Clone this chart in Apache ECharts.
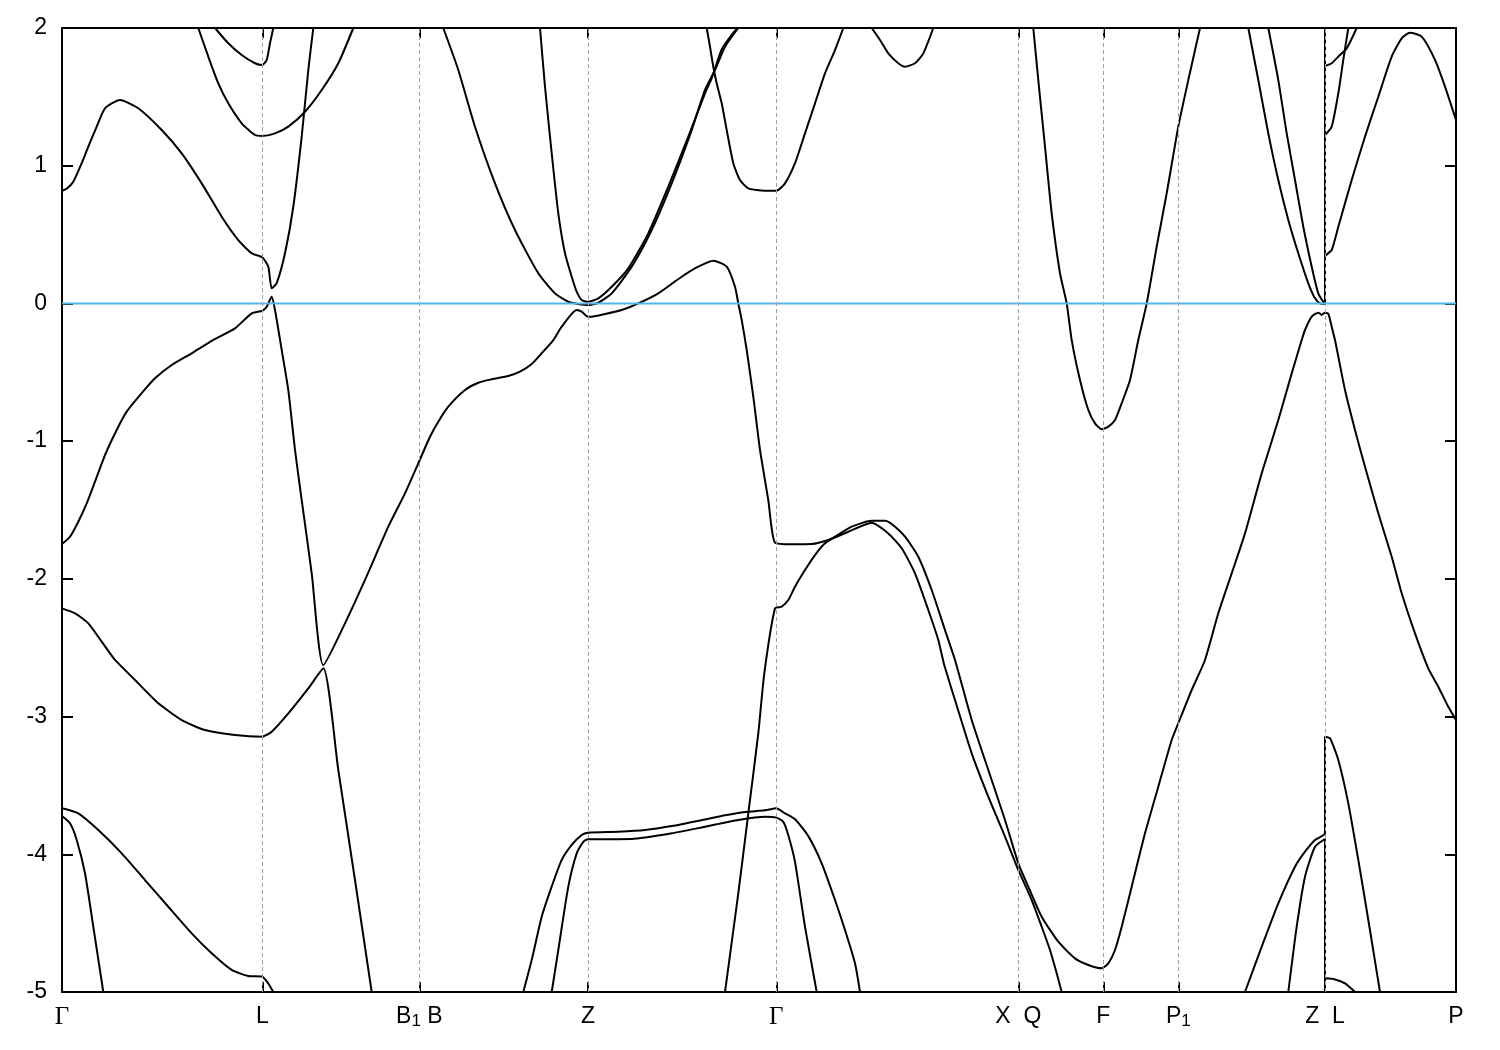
<!DOCTYPE html>
<html><head><meta charset="utf-8">
<script src="https://cdn.jsdelivr.net/npm/echarts@6/dist/echarts.min.js"></script>
<style>html,body{margin:0;padding:0;background:#fff}#c{width:1500px;height:1050px}</style>
</head><body><div id="c"></div>
<script>
// high-symmetry points (path coordinate k) and their labels
const symK = [0, 200.3, 357.3, 526, 714.3, 956.3, 1041.3, 1116.3, 1263, 1394];
const symLabels = ['{g|Γ}', '{n|L}', '{n|B}{s|1}{n| B}', '{n|Z}', '{g|Γ}', '{n|X  Q}', '{n|F}', '{n|P}{s|1}', '{n|Z  L}', '{n|P}'];
const fermiLevel = [[0, 0], [1394, 0]];

// bands: [k, E (eV)]
const bandA = [[0,-1.747],[8,-1.694],[16.3,-1.585],[24.7,-1.452],[33,-1.294],[43,-1.101],[54.7,-0.919],[64.7,-0.786],[79.7,-0.652],[93,-0.544],[109.7,-0.447],[129.7,-0.362],[151,-0.266],[173,-0.181],[189.7,-0.072],[200.3,-0.053],[204.7,-0.024],[209.7,0.049],[213,-0.048],[219.7,-0.338],[226.3,-0.629],[233,-1.064],[239.7,-1.428],[249.7,-1.960],[261.3,-2.626],[283,-2.323],[303,-2.008],[326.3,-1.621],[343,-1.379],[356.3,-1.161],[368,-0.968],[376.3,-0.859],[386.3,-0.750],[403,-0.629],[416.3,-0.576],[429.7,-0.551],[446.3,-0.527],[458,-0.496],[469.7,-0.440],[479.7,-0.362],[491.3,-0.266],[499.7,-0.169],[514.7,-0.048],[519.7,-0.060],[526,-0.096],[529.7,-0.096],[543,-0.077],[559.7,-0.048],[576.3,0.0],[596.3,0.073],[619.7,0.194],[636.3,0.267],[651.3,0.310],[664.7,0.267],[673,0.121],[676.3,0.0],[679.7,-0.120],[684.7,-0.338],[691.3,-0.677],[698,-1.064],[706.3,-1.428],[713,-1.737],[729.7,-1.749],[749.7,-1.747],[766.3,-1.718],[786.3,-1.658],[809.7,-1.592],[826.3,-1.670],[839.7,-1.778],[853,-1.960],[866.3,-2.226],[876.3,-2.444],[882,-2.618],[893,-2.880],[909.7,-3.267],[926.3,-3.582],[943,-3.872],[956.3,-4.114],[969.7,-4.332],[979.7,-4.526],[988,-4.695],[994.7,-4.864],[999.7,-5.0]];
const bandB = [[0,-2.214],[13,-2.250],[26.3,-2.323],[39.7,-2.456],[53,-2.589],[59.7,-2.638],[73,-2.735],[96.3,-2.904],[119.7,-3.025],[143,-3.098],[173,-3.134],[200.3,-3.146],[209.7,-3.110],[226.3,-2.977],[246.3,-2.795],[261.3,-2.650],[276.3,-3.388],[293,-4.187],[309.7,-5.0]];
const bandC = [[663,-5.0],[676.3,-4.284],[686.3,-3.703],[696.3,-3.122],[702.3,-2.686],[713,-2.214],[719.7,-2.202],[726.3,-2.154],[733,-2.057],[743,-1.936],[753,-1.827],[763,-1.742],[773,-1.694],[789.7,-1.621],[809.7,-1.578],[823,-1.578],[829.7,-1.602],[843,-1.694],[856.3,-1.839],[869.7,-2.081],[883,-2.372],[893,-2.589],[909.7,-3.025],[926.3,-3.388],[943,-3.751],[956.3,-4.066],[966.3,-4.235],[979.7,-4.453],[996.3,-4.635],[1013,-4.756],[1026.3,-4.804],[1039.7,-4.828],[1046.3,-4.792],[1053,-4.695],[1059.7,-4.526],[1069.7,-4.235],[1083,-3.848],[1096.3,-3.509],[1109.7,-3.170],[1116.3,-3.049],[1129.7,-2.807],[1143,-2.589],[1156.3,-2.250],[1169.7,-1.960],[1183,-1.670],[1199.7,-1.234],[1216.3,-0.847],[1229.7,-0.508],[1239.7,-0.266],[1243,-0.193],[1249.7,-0.096],[1256.3,-0.067],[1259.7,-0.084],[1263,-0.067],[1266.3,-0.075],[1269.7,-0.169],[1273,-0.266],[1283,-0.629],[1293,-0.919],[1303,-1.186],[1316.3,-1.524],[1329.7,-1.839],[1339.7,-2.105],[1353,-2.396],[1366.3,-2.650],[1376.3,-2.783],[1386.3,-2.929],[1394,-3.025]];
const bandD = [[0,0.818],[5,0.835],[11.3,0.884],[19.7,1.018],[26.3,1.139],[34.7,1.284],[43,1.417],[58,1.477],[76.3,1.417],[99.7,1.259],[119.7,1.090],[139.7,0.872],[159.7,0.630],[176.3,0.460],[189.7,0.364],[200.3,0.335],[206.3,0.267],[209.7,0.110],[214.7,0.147],[223,0.364],[231.3,0.702],[239.7,1.211],[246.3,1.695],[251.3,2.0]];
const bandE = [[0,-3.666],[16.3,-3.703],[36.3,-3.824],[59.7,-3.993],[83,-4.187],[106.3,-4.381],[129.7,-4.574],[149.7,-4.719],[169.7,-4.840],[186.3,-4.884],[200.3,-4.889],[206.3,-4.938],[211.3,-5.0]];
const bandF = [[0,-3.722],[8,-3.775],[14.7,-3.896],[23,-4.138],[31.3,-4.526],[41.3,-5.0]];
const bandT1 = [[136.3,2.0],[146.3,1.792],[156.3,1.598],[166.3,1.453],[179.7,1.308],[193,1.223],[200.3,1.216],[213,1.235],[226.3,1.284],[243,1.392],[259.7,1.550],[276.3,1.744],[291.3,2.0]];
const bandT2 = [[153,2.0],[166.3,1.889],[179.7,1.804],[193,1.744],[200.3,1.731],[204.7,1.768],[208,1.889],[211.3,2.0]];
const bandW = [[381.3,2.0],[396.3,1.695],[413,1.283],[433,0.872],[453,0.533],[476.3,0.219],[493,0.073],[506.3,0.012],[516.3,-0.004],[526,-0.012],[536.3,0.005],[549.7,0.073],[569.7,0.267],[589.7,0.533],[609.7,0.872],[629.7,1.259],[643,1.550],[653,1.695],[663,1.864],[676.3,2.0]];
const bandS = [[478,2.0],[483,1.574],[489.7,1.090],[496.3,0.654],[503,0.364],[509.7,0.194],[514.7,0.085],[519.7,0.025],[526,0.012],[536.3,0.037],[549.7,0.121],[566.3,0.255],[586.3,0.509],[606.3,0.848],[626.3,1.211],[643,1.526],[649.7,1.635],[660,1.85],[675,2.0]];
const bandG = [[644.7,2.0],[648,1.864],[651.3,1.719],[654.7,1.598],[659.7,1.453],[664.7,1.259],[671.3,1.018],[678,0.896],[686.3,0.836],[703,0.818],[714.3,0.818],[723,0.872],[733,1.018],[743,1.235],[753,1.453],[763,1.671],[773,1.840],[781.3,2.0]];
const bandH = [[809.7,2.0],[818,1.913],[826.3,1.816],[836.3,1.744],[843,1.719],[853,1.744],[861.3,1.816],[871.3,2.0]];
const bandV = [[971.3,2.0],[976.3,1.622],[983,1.138],[989.7,0.654],[998,0.219],[1004.7,0.0],[1009.7,-0.266],[1018,-0.556],[1026.3,-0.774],[1033,-0.871],[1039.7,-0.914],[1046.3,-0.895],[1053,-0.847],[1059.7,-0.725],[1068,-0.556],[1076.3,-0.266],[1084.7,0.0],[1094.7,0.412],[1104.7,0.800],[1116.3,1.284],[1126.3,1.622],[1138,2.0]];
const bandZ1 = [[1186.3,2.0],[1196.3,1.622],[1206.3,1.235],[1216.3,0.896],[1226.3,0.606],[1236.3,0.364],[1246.3,0.146],[1253,0.037],[1258,0.0],[1263,-0.004],[1263,2.3]];
const bandZ2 = [[1206.3,2.0],[1216.3,1.622],[1224.7,1.235],[1233,0.896],[1241.3,0.557],[1249.7,0.267],[1256.3,0.073],[1261.3,0.012],[1263,0.005],[1263,0.339],[1269.7,0.388],[1276.3,0.557],[1289.7,0.896],[1303,1.211],[1316.3,1.501],[1329.7,1.792],[1339.7,1.925],[1348,1.966],[1359.7,1.937],[1373,1.768],[1383,1.574],[1394,1.332]];
const bandR1 = [[1263,2.3],[1263,1.724],[1269.7,1.744],[1276.3,1.792],[1284.7,1.852],[1294.7,2.0]];
const bandR2 = [[1263,2.3],[1263,1.223],[1269.7,1.284],[1276.3,1.526],[1281.3,1.768],[1286.3,2.0]];
const bandP1 = [[461.3,-5.0],[469.7,-4.768],[479.7,-4.453],[489.7,-4.235],[499.7,-4.041],[509.7,-3.932],[519.7,-3.860],[526,-3.843],[556.3,-3.836],[583,-3.824],[609.7,-3.795],[643,-3.747],[663,-3.717],[683,-3.693],[703,-3.681],[714.3,-3.666],[723,-3.703],[733,-3.746],[746.3,-3.868],[759.7,-4.066],[773,-4.332],[783,-4.550],[793,-4.792],[798,-5.0]];
const bandP2 = [[489.7,-5.0],[496.3,-4.695],[506.3,-4.235],[514.7,-3.993],[521.3,-3.909],[526,-3.891],[569.7,-3.889],[609.7,-3.848],[643,-3.800],[676.3,-3.751],[703,-3.727],[714.3,-3.734],[721.3,-3.765],[726.3,-3.862],[733,-4.055],[743,-4.526],[754.7,-5.0]];
const bandQ1 = [[1183,-5.0],[1199.7,-4.671],[1216.3,-4.356],[1233,-4.090],[1243,-3.981],[1253,-3.896],[1263,-3.848],[1263,-3.146],[1268,-3.158],[1276.3,-3.315],[1286.3,-3.630],[1296.3,-4.041],[1306.3,-4.477],[1318,-5.0]];
const bandQ2 = [[1226.3,-5.0],[1234.7,-4.526],[1243,-4.163],[1253,-3.945],[1263,-3.889],[1263,-5.2]];
const bandQ3 = [[1263,-5.2],[1263,-4.901],[1273,-4.909],[1283,-4.938],[1293,-5.0]];

const bands = [bandA, bandB, bandC, bandD, bandE, bandF, bandT1, bandT2, bandW, bandS, bandG, bandH, bandV, bandZ1, bandZ2, bandR1, bandR2, bandP1, bandP2, bandQ1, bandQ2, bandQ3];

const innerK = symK.slice(1, -1);
const rich = {
  n: {fontFamily: 'Liberation Sans', fontSize: 23, color: '#000', lineHeight: 26},
  g: {fontFamily: 'Liberation Serif', fontSize: 25, color: '#000', lineHeight: 26},
  s: {fontFamily: 'Liberation Sans', fontSize: 17, color: '#000', lineHeight: 8, verticalAlign: 'bottom'}
};
const axisLineStyle = {show: true, onZero: false, lineStyle: {color: '#000', width: 2}};

const chart = echarts.init(document.getElementById('c'));
chart.setOption({
  animation: false,
  backgroundColor: '#fff',
  grid: {left: 62, right: 44, top: 28, bottom: 58},
  xAxis: [{
    type: 'value', min: 0, max: 1394, position: 'bottom',
    axisLine: axisLineStyle,
    axisTick: {show: true, inside: true, length: 10, customValues: innerK, lineStyle: {color: '#000', width: 2}},
    axisLabel: {show: true, customValues: symK, margin: 12, rich: rich,
      formatter: function (v) {
        const i = symK.findIndex(function (k) { return Math.abs(k - v) < 0.01; });
        return i >= 0 ? symLabels[i] : '';
      }},
    splitLine: {show: false}
  }, {
    type: 'value', min: 0, max: 1394, position: 'top',
    axisLine: axisLineStyle,
    axisTick: {show: true, inside: true, length: 10, customValues: innerK, lineStyle: {color: '#000', width: 2}},
    axisLabel: {show: false}, splitLine: {show: false}
  }],
  yAxis: [{
    type: 'value', min: -5, max: 2, interval: 1, position: 'left',
    axisLine: axisLineStyle,
    axisTick: {show: true, inside: true, length: 11, lineStyle: {color: '#000', width: 2}},
    axisLabel: {show: true, margin: 15, color: '#000', fontFamily: 'Liberation Sans', fontSize: 23},
    splitLine: {show: false}
  }, {
    type: 'value', min: -5, max: 2, interval: 1, position: 'right',
    axisLine: axisLineStyle,
    axisTick: {show: true, inside: true, length: 11, lineStyle: {color: '#000', width: 2}},
    axisLabel: {show: false}, splitLine: {show: false}
  }],
  series: [{
    type: 'line', data: [], z: 1, silent: true,
    markLine: {symbol: ['none', 'none'], silent: true, animation: false, label: {show: false},
      lineStyle: {color: '#a0a0a0', type: [4, 3], width: 1},
      data: innerK.map(function (k) { return {xAxis: k}; })}
  }].concat(bands.map(function (d) {
    return {type: 'line', data: d, symbol: 'none', showSymbol: false, silent: true, z: 3, clip: true,
      smooth: 0.2, lineStyle: {color: '#000', width: 2}};
  })).concat([{
    type: 'line', data: fermiLevel, symbol: 'none', silent: true, z: 4,
    lineStyle: {color: '#56b4e9', width: 2}
  }])
});
</script>
</body></html>
